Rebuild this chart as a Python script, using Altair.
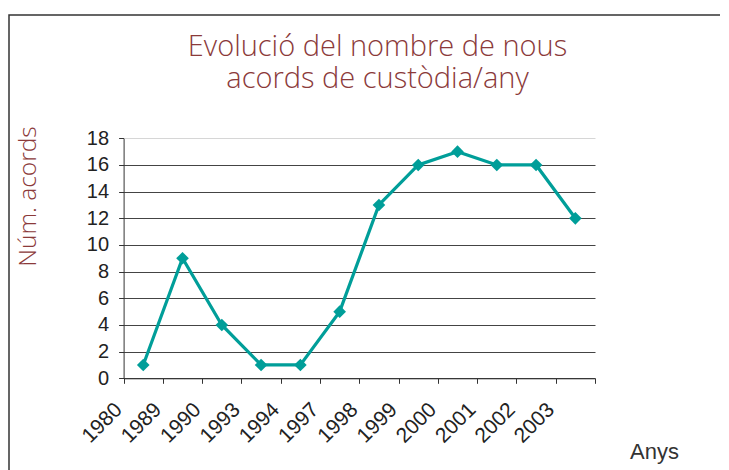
import json
import altair as alt
import pandas as pd

# ---- data ----
years = ["1980", "1989", "1990", "1993", "1994", "1997",
         "1998", "1999", "2000", "2001", "2002", "2003"]
acords = [1, 9, 4, 1, 1, 5, 13, 16, 17, 16, 16, 12]
y_ticks = [0, 2, 4, 6, 8, 10, 12, 14, 16, 18]
title_lines = ["Evolució del nombre de nous", "acords de custòdia/any"]
y_title = "Núm. acords"
x_title = "Anys"

df = pd.DataFrame({"idx": list(range(len(years))), "year": years, "value": acords})

TEAL = "#009E99"
RED = "#8B3A3A"
DARK = "#333333"

W, H = 711, 455           # view = outer frame (only top and left edges drawn)
X0, X1 = 114.6, 586.0     # plot area inside frame
Y0, Y1 = 363.3, 123.3

label_expr = json.dumps(years) + "[datum.value] || ''"

x_enc = alt.X(
    "pos:Q",
    scale=alt.Scale(domain=[0, len(years)], range=[X0, X1], nice=False, zero=False),
    axis=alt.Axis(
        orient="bottom",
        offset=-(H - Y0),
        values=list(range(len(years) + 1)),
        labelExpr=label_expr,
        grid=False,
        domainColor=DARK,
        tickColor=DARK,
        tickSize=5,
        labelAngle=-45,
        labelAlign="right",
        labelBaseline="middle",
        labelPadding=23,
        labelOffset=-5,
        labelFont="Liberation Sans",
        labelFontSize=21,
        labelColor="#222222",
        labelOverlap=False,
        title=x_title,
        titleFont="Liberation Sans",
        titleFontSize=22,
        titleFontWeight="normal",
        titleColor=DARK,
        titleX=645,
        titleY=80,
        titleAlign="center",
        titleBaseline="alphabetic",
        titleAngle=0,
    ),
)

y_enc = alt.Y(
    "value:Q",
    scale=alt.Scale(domain=[0, 18], range=[Y0, Y1], nice=False, zero=True),
    axis=alt.Axis(
        orient="left",
        offset=-X0,
        values=y_ticks,
        grid=True,
        gridColor={"condition": {"test": "datum.value == 18", "value": "#d6d6d6"}, "value": "#444444"},
        gridWidth=1,
        domainColor=DARK,
        tickColor=DARK,
        tickSize=5,
        labelPadding=10,
        labelFont="Liberation Sans",
        labelFontSize=20,
        labelColor="#222222",
        title=y_title,
        titleFont="Open Sans",
        titleFontWeight=300,
        titleFontSize=24.5,
        titleColor=RED,
        titleAngle=-90,
        titleAlign="center",
        titleBaseline="middle",
        titleX=-95.6,
        titleY=181,
    ),
)

chart = (
    alt.Chart(df)
    .transform_calculate(pos="datum.idx + 0.5")
    .mark_line(
        color=TEAL,
        strokeWidth=3.2,
        point=alt.OverlayMarkDef(shape="diamond", size=160, filled=True, color=TEAL),
    )
    .encode(x=x_enc, y=y_enc)
    .properties(
        width=W,
        height=H,
        padding={"left": 1, "top": 7, "right": 0, "bottom": 0},
        title=alt.TitleParams(
            text=title_lines,
            font="Open Sans",
            fontWeight=300,
            fontSize=29,
            color=RED,
            anchor="middle",
            baseline="top",
            offset=-79,
            dx=13,
            lineHeight=32,
        ),
    )
    .configure_view(stroke=DARK, strokeWidth=1.5, strokeDash=[W, H + W, H])
)

chart.save("out.html", embed_options={"renderer": "svg", "actions": False})
